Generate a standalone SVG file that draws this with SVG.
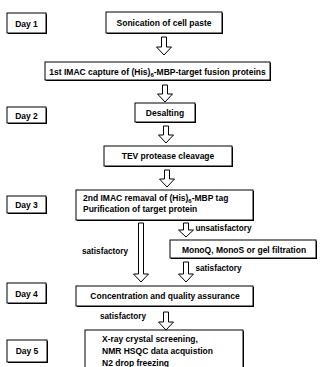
<svg xmlns="http://www.w3.org/2000/svg" width="324" height="367" viewBox="0 0 324 367">
<defs>
<style>
.bx{fill:#fff;stroke:#000;stroke-width:1}
.sh{fill:#000}
.t{font-family:"Liberation Sans",Arial,sans-serif;font-size:8.5px;font-weight:bold;fill:#000}
.c{text-anchor:middle}
.l{font-family:"Liberation Sans",Arial,sans-serif;font-size:8.2px;font-weight:bold;fill:#000}
.ar{fill:#fff;stroke:#000;stroke-width:1;stroke-linejoin:miter}
</style>
</defs>
<rect width="324" height="367" fill="#fff"/>
<g id="day1"><rect class="sh" x="8" y="14" width="39" height="20"/><rect class="bx" x="7" y="13" width="39" height="20"/><text class="t c" x="26.5" y="26.5">Day 1</text></g>
<g id="sonication"><rect class="sh" x="107" y="13" width="116" height="21"/><rect class="bx" x="106" y="12" width="116" height="21"/><text class="t c" x="164" y="25.5">Sonication of cell paste</text></g>
<g id="imac1"><rect class="sh" x="46" y="63" width="225" height="18"/><rect class="bx" x="45" y="62" width="225" height="18"/><text class="t c" x="157.5" y="74.5">1st IMAC capture of (His)<tspan font-size="6" dy="2">6</tspan><tspan dy="-2">-MBP-target fusion proteins</tspan></text></g>
<g id="day2"><rect class="sh" x="8" y="108" width="39" height="16"/><rect class="bx" x="7" y="107" width="39" height="16"/><text class="t c" x="26.5" y="118.5">Day 2</text></g>
<g id="desalting"><rect class="sh" x="136" y="104" width="60" height="19"/><rect class="bx" x="135" y="103" width="60" height="19"/><text class="t c" x="165" y="115.5">Desalting</text></g>
<g id="tev"><rect class="sh" x="105" y="147" width="128" height="20"/><rect class="bx" x="104" y="146" width="128" height="20"/><text class="t c" x="168" y="159">TEV protease cleavage</text></g>
<g id="day3"><rect class="sh" x="8" y="197" width="39" height="17"/><rect class="bx" x="7" y="196" width="39" height="17"/><text class="t c" x="26.5" y="208">Day 3</text></g>
<g id="imac2"><rect class="sh" x="77" y="191" width="177" height="30"/><rect class="bx" x="76" y="190" width="177" height="30"/><text class="t" x="83" y="200.5">2nd IMAC remaval of (His)<tspan font-size="6" dy="2">6</tspan><tspan dy="-2">-MBP tag</tspan></text><text class="t" x="83" y="212">Purification of target protein</text></g>
<g id="mono"><rect class="sh" x="171" y="241" width="146" height="18"/><rect class="bx" x="170" y="240" width="146" height="18"/><text class="t c" x="244" y="252.5">MonoQ, MonoS or gel filtration</text></g>
<g id="day4"><rect class="sh" x="8" y="284" width="39" height="20"/><rect class="bx" x="7" y="283" width="39" height="20"/><text class="t c" x="26.5" y="296.5">Day 4</text></g>
<g id="conc"><rect class="sh" x="77" y="287" width="177" height="20"/><rect class="bx" x="76" y="286" width="177" height="20"/><text class="t c" x="165" y="299">Concentration and quality assurance</text></g>
<g id="day5"><rect class="sh" x="8" y="341" width="40" height="22"/><rect class="bx" x="7" y="340" width="40" height="22"/><text class="t c" x="27" y="354">Day 5</text></g>
<g id="final"><rect class="sh" x="86" y="331" width="158" height="45"/><rect class="bx" x="85" y="330" width="158" height="45"/><text class="t" x="102" y="342">X-ray crystal screening,</text><text class="t" x="102" y="354">NMR HSQC data acquistion</text><text class="t" x="102" y="365.5">N2 drop freezing</text></g>
<g id="connectors">
<path class="ar" d="M161.5,37 H166.5 V47 H171.5 L164,55 L156.5,47 H161.5 Z"/>
<path class="ar" d="M162.5,85 H167.5 V94 H172.5 L165,102 L157.5,94 H162.5 Z"/>
<path class="ar" d="M163.5,126 H168.5 V135 H173.5 L166,143 L158.5,135 H163.5 Z"/>
<path class="ar" d="M164.5,170 H169.5 V179 H174.5 L167,187 L159.5,179 H164.5 Z"/>
<path class="ar" d="M138.5,223 H143.5 V274 H148.5 L141,282 L133.5,274 H138.5 Z"/>
<path class="ar" d="M183.5,223 H188.5 V230 H193.5 L186,237 L178.5,230 H183.5 Z"/>
<path class="ar" d="M183.5,262 H188.5 V274 H193.5 L186,282 L178.5,274 H183.5 Z"/>
<path class="ar" d="M163.5,312 H168.5 V322 H173.5 L166,330 L158.5,322 H163.5 Z"/>
<text class="l" x="82" y="254">satisfactory</text>
<text class="l" x="195.5" y="231">unsatisfactory</text>
<text class="l" x="195.5" y="271">satisfactory</text>
<text class="l" x="100" y="319">satisfactory</text>
</g>
</svg>
